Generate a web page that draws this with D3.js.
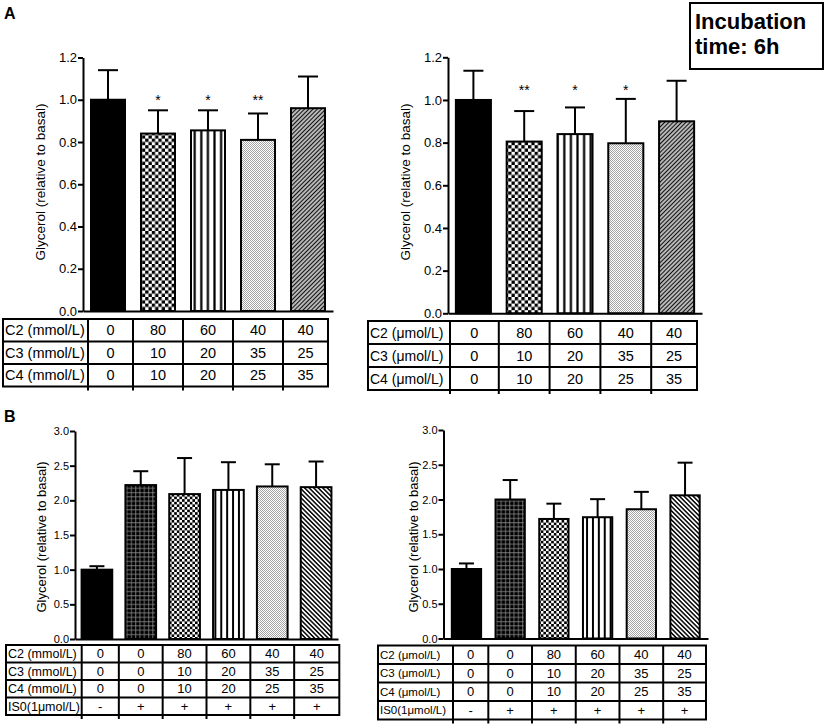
<!DOCTYPE html>
<html>
<head>
<meta charset="utf-8">
<script src="https://cdn.jsdelivr.net/npm/d3@7"></script>
<style>
  body { margin: 0; background: #fff; }
  text { font-family: Arial, "Liberation Sans", sans-serif; fill: #000; }
</style>
</head>
<body>
<div id="figure"></div>
<script>
// values
const groupsA = ["basal", "80/10/10", "60/20/20", "40/35/25", "40/25/35"];
const c2A = ["0", "80", "60", "40", "40"];
const c3A = ["0", "10", "20", "35", "25"];
const c4A = ["0", "10", "20", "25", "35"];
const meanA1 = [1.00, 0.84, 0.855, 0.81, 0.96];
const semA1 = [0.14, 0.11, 0.095, 0.125, 0.15];
const starsA1 = ["", "*", "*", "**", ""];
const meanA2 = [1.00, 0.805, 0.84, 0.797, 0.90];
const semA2 = [0.137, 0.143, 0.125, 0.208, 0.19];
const starsA2 = ["", "**", "*", "*", ""];

const groupsB = ["basal", "ISO", "ISO 80/10/10", "ISO 60/20/20", "ISO 40/35/25", "ISO 40/25/35"];
const c2B = ["0", "0", "80", "60", "40", "40"];
const c3B = ["0", "0", "10", "20", "35", "25"];
const c4B = ["0", "0", "10", "20", "25", "35"];
const isoB = ["-", "+", "+", "+", "+", "+"];
const meanB1 = [1.00, 2.22, 2.09, 2.15, 2.20, 2.19];
const semB1 = [0.05, 0.20, 0.52, 0.40, 0.32, 0.37];
const meanB2 = [1.00, 2.00, 1.72, 1.745, 1.86, 2.06];
const semB2 = [0.08, 0.28, 0.22, 0.26, 0.25, 0.47];

const ticksA = [0, 0.2, 0.4, 0.6, 0.8, 1.0, 1.2];
const ticksB = [0, 0.5, 1.0, 1.5, 2.0, 2.5, 3.0];
const yTitle = "Glycerol (relative to basal)";

const chartSizings = { width: 827, height: 724 };

const svg = d3.select("#figure")
              .append("svg")
              .attr("width", chartSizings.width)
              .attr("height", chartSizings.height)
              .style("display", "block");

svg.append("rect")
   .attr("width", chartSizings.width)
   .attr("height", chartSizings.height)
   .attr("fill", "#fff");

// hatch patterns used by the bars
const defs = svg.append("defs");

function checker(id, s) {
    const p = defs.append("pattern").attr("id", id).attr("patternUnits", "userSpaceOnUse")
                  .attr("width", 2 * s).attr("height", 2 * s);
    p.append("rect").attr("width", 2 * s).attr("height", 2 * s).attr("fill", "#fff");
    p.append("rect").attr("width", s).attr("height", s).attr("fill", "#000");
    p.append("rect").attr("x", s).attr("y", s).attr("width", s).attr("height", s).attr("fill", "#000");
}
function stripes(id, period, lw, angle, bg, fg) {
    const p = defs.append("pattern").attr("id", id).attr("patternUnits", "userSpaceOnUse")
                  .attr("width", period).attr("height", period)
                  .attr("patternTransform", `rotate(${angle})`);
    p.append("rect").attr("width", period).attr("height", period).attr("fill", bg);
    p.append("rect").attr("x", (period - lw) / 2).attr("width", lw).attr("height", period).attr("fill", fg);
}
checker("checkA", 3.3);
checker("checkB", 2.6);
stripes("vstripeA", 6.6, 2.2, 0, "#fff", "#000");
stripes("vstripeB", 5.9, 2.0, 0, "#fff", "#000");
stripes("diagA", 3.0, 1.6, 45, "#fff", "#111");
stripes("diagB", 3.2, 1.6, -45, "#fff", "#111");
(function () {
    const p = defs.append("pattern").attr("id", "dots").attr("patternUnits", "userSpaceOnUse")
                  .attr("width", 2).attr("height", 2);
    p.append("rect").attr("width", 2).attr("height", 2).attr("fill", "#fff");
    p.append("rect").attr("width", 1).attr("height", 1).attr("fill", "#a4a4a4");
    p.append("rect").attr("x", 1).attr("y", 1).attr("width", 1).attr("height", 1).attr("fill", "#a4a4a4");
    const g = defs.append("pattern").attr("id", "gridB").attr("patternUnits", "userSpaceOnUse")
                  .attr("width", 4.3).attr("height", 4.3);
    g.append("rect").attr("width", 4.3).attr("height", 4.3).attr("fill", "#000");
    g.append("rect").attr("x", 2).attr("width", 0.8).attr("height", 4.3).attr("fill", "#8a8a8a");
    g.append("rect").attr("y", 2).attr("width", 4.3).attr("height", 0.8).attr("fill", "#8a8a8a");
})();

const fillsA = ["#000", "url(#checkA)", "url(#vstripeA)", "url(#dots)", "url(#diagA)"];
const fillsB = ["#000", "url(#gridB)", "url(#checkB)", "url(#vstripeB)", "url(#dots)", "url(#diagB)"];

function drawPanel(cfg) {
    const x = d3.scaleBand()
                .domain(cfg.groups)
                .range([cfg.x0, cfg.x1])
                .paddingInner(cfg.padIn)
                .paddingOuter(cfg.padOut);
    const y = d3.scaleLinear()
                .domain([0, cfg.yMax])
                .range([cfg.yBottom, cfg.yTop]);
    const bw = x.bandwidth();
    const data = cfg.groups.map((g, i) => ({ g, mean: cfg.mean[i], sem: cfg.sem[i], star: cfg.stars ? cfg.stars[i] : "", fill: cfg.fills[i] }));

    const g = svg.append("g");

    // error bars (upper only)
    const eb = g.append("g").attr("stroke", "#000").attr("stroke-width", 2);
    eb.selectAll("line.v").data(data).join("line")
      .attr("class", "v")
      .attr("x1", d => x(d.g) + bw / 2).attr("x2", d => x(d.g) + bw / 2)
      .attr("y1", d => y(d.mean)).attr("y2", d => y(d.mean + d.sem));
    eb.selectAll("line.c").data(data).join("line")
      .attr("class", "c")
      .attr("x1", d => x(d.g) + bw / 2 - cfg.capW / 2).attr("x2", d => x(d.g) + bw / 2 + cfg.capW / 2)
      .attr("y1", d => y(d.mean + d.sem)).attr("y2", d => y(d.mean + d.sem));

    g.selectAll("rect.bar").data(data).join("rect")
     .attr("class", "bar")
     .attr("x", d => x(d.g))
     .attr("y", d => y(d.mean))
     .attr("width", bw)
     .attr("height", d => y(0) - y(d.mean))
     .attr("fill", d => d.fill)
     .attr("stroke", "#000")
     .attr("stroke-width", 2);

    if (cfg.stars) {
        g.selectAll("text.star").data(data).join("text")
         .attr("class", "star")
         .attr("x", d => x(d.g) + bw / 2)
         .attr("y", y(cfg.starLevel))
         .attr("text-anchor", "middle")
         .attr("font-size", 14)
         .text(d => d.star);
    }

    const yAxis = g.append("g")
                   .attr("transform", `translate(${cfg.x0},0)`)
                   .call(d3.axisLeft(y).tickValues(cfg.ticks).tickFormat(d3.format(".1f"))
                           .tickSize(5).tickSizeOuter(0).tickPadding(1))
                   .attr("font-family", "Arial, 'Liberation Sans', sans-serif")
                   .attr("font-size", cfg.tickFont);
    yAxis.select(".domain").attr("stroke-width", 2);
    yAxis.selectAll(".tick line").attr("stroke-width", 2);
    yAxis.selectAll(".tick text").attr("fill", "#000");

    const xAxis = g.append("g")
                   .attr("transform", `translate(0,${y(0)})`)
                   .call(d3.axisBottom(x).tickValues([]).tickSizeOuter(0));
    xAxis.select(".domain").attr("stroke-width", 2);

    g.append("text")
     .attr("transform", `translate(${cfg.titleX},${cfg.titleY}) rotate(-90)`)
     .attr("text-anchor", "middle")
     .attr("dy", "0.35em")
     .attr("font-size", cfg.titleFont)
     .text(yTitle);

    // condition table under the bars
    const centers = cfg.groups.map(d => x(d) + bw / 2);
    const cols = [cfg.tblLeft, cfg.tblLabelRight];
    for (let i = 1; i < centers.length; i++) cols.push((centers[i - 1] + centers[i]) / 2);
    cols.push(cfg.tblRight);
    const nRows = cfg.rows.length;
    const tblBottom = cfg.tblTop + nRows * cfg.rowH;
    const t = g.append("g");
    t.append("rect")
     .attr("x", cfg.tblLeft).attr("y", cfg.tblTop)
     .attr("width", cfg.tblRight - cfg.tblLeft).attr("height", tblBottom - cfg.tblTop)
     .attr("fill", "none").attr("stroke", "#000").attr("stroke-width", 2);
    t.selectAll("line.h").data(d3.range(1, nRows)).join("line")
     .attr("class", "h")
     .attr("x1", cfg.tblLeft).attr("x2", cfg.tblRight)
     .attr("y1", r => cfg.tblTop + r * cfg.rowH).attr("y2", r => cfg.tblTop + r * cfg.rowH)
     .attr("stroke", "#000").attr("stroke-width", 2);
    t.selectAll("line.v").data(cols.slice(1, -1)).join("line")
     .attr("class", "v")
     .attr("x1", c => c).attr("x2", c => c)
     .attr("y1", cfg.tblTop).attr("y2", tblBottom + 4)
     .attr("stroke", "#000").attr("stroke-width", 2);
    cfg.rows.forEach((row, r) => {
        const cy = cfg.tblTop + (r + 0.5) * cfg.rowH;
        t.append("text")
         .attr("x", cfg.tblLeft + 2)
         .attr("y", cy)
         .attr("dy", "0.36em")
         .attr("font-size", cfg.labelFont || cfg.tblFont)
         .text(row[0]);
        t.selectAll(null).data(row[1]).join("text")
         .attr("x", (v, i) => (cols[i + 1] + cols[i + 2]) / 2)
         .attr("y", cy)
         .attr("dy", "0.36em")
         .attr("text-anchor", "middle")
         .attr("font-size", cfg.tblFont)
         .text(v => v);
    });
}

drawPanel({
    groups: groupsA, mean: meanA1, sem: semA1, stars: starsA1, fills: fillsA,
    x0: 83, x1: 333, padIn: 0.32, padOut: 0.16,
    yMax: 1.2, yBottom: 311, yTop: 57.5, ticks: ticksA, tickFont: 13,
    capW: 20, starLevel: 0.975,
    titleX: 40, titleY: 182, titleFont: 13.5,
    rows: [["C2 (mmol/L)", c2A], ["C3 (mmol/L)", c3A], ["C4 (mmol/L)", c4A]],
    tblLeft: 3, tblLabelRight: 88, tblRight: 328, tblTop: 319, rowH: 22.5, tblFont: 14.5
});

drawPanel({
    groups: groupsA, mean: meanA2, sem: semA2, stars: starsA2, fills: fillsA,
    x0: 448, x1: 702, padIn: 0.31, padOut: 0.155,
    yMax: 1.2, yBottom: 313.3, yTop: 57.3, ticks: ticksA, tickFont: 13,
    capW: 20, starLevel: 1.023,
    titleX: 405, titleY: 182, titleFont: 13.5,
    rows: [["C2 (\u03bcmol/L)", c2A], ["C3 (\u03bcmol/L)", c3A], ["C4 (\u03bcmol/L)", c4A]],
    tblLeft: 368, tblLabelRight: 450, tblRight: 697, tblTop: 321, rowH: 23, tblFont: 14.5, labelFont: 14
});

drawPanel({
    groups: groupsB, mean: meanB1, sem: semB1, stars: null, fills: fillsB,
    x0: 75, x1: 338, padIn: 0.3, padOut: 0.15,
    yMax: 3, yBottom: 639, yTop: 431, ticks: ticksB, tickFont: 11,
    capW: 15,
    titleX: 41, titleY: 537, titleFont: 13,
    rows: [["C2 (mmol/L)", c2B], ["C3 (mmol/L)", c3B], ["C4 (mmol/L)", c4B], ["IS0(1\u03bcmol/L)", isoB]],
    tblLeft: 6, tblLabelRight: 81.7, tblRight: 339.3, tblTop: 645, rowH: 17.5, tblFont: 13, labelFont: 12.5
});

drawPanel({
    groups: groupsB, mean: meanB2, sem: semB2, stars: null, fills: fillsB,
    x0: 443.5, x1: 708, padIn: 0.33, padOut: 0.19,
    yMax: 3, yBottom: 638.5, yTop: 430, ticks: ticksB, tickFont: 11,
    capW: 15,
    titleX: 413, titleY: 537, titleFont: 13,
    rows: [["C2 (\u03bcmol/L)", c2B], ["C3 (\u03bcmol/L)", c3B], ["C4 (\u03bcmol/L)", c4B], ["IS0(1\u03bcmol/L)", isoB]],
    tblLeft: 378, tblLabelRight: 453, tblRight: 706, tblTop: 645.5, rowH: 18.5, tblFont: 13, labelFont: 11.5
});

// panel letters and the incubation note
svg.append("text").attr("x", 4).attr("y", 18.5).attr("font-size", 16).attr("font-weight", "bold").text("A");
svg.append("text").attr("x", 4).attr("y", 421.5).attr("font-size", 16).attr("font-weight", "bold").text("B");

svg.append("rect")
   .attr("x", 690).attr("y", 3).attr("width", 133).attr("height", 66)
   .attr("fill", "none").attr("stroke", "#000").attr("stroke-width", 2);
svg.append("text").attr("x", 695).attr("y", 29).attr("font-size", 22).attr("font-weight", "bold").text("Incubation");
svg.append("text").attr("x", 695).attr("y", 54).attr("font-size", 22).attr("font-weight", "bold").text("time: 6h");
</script>
</body>
</html>
